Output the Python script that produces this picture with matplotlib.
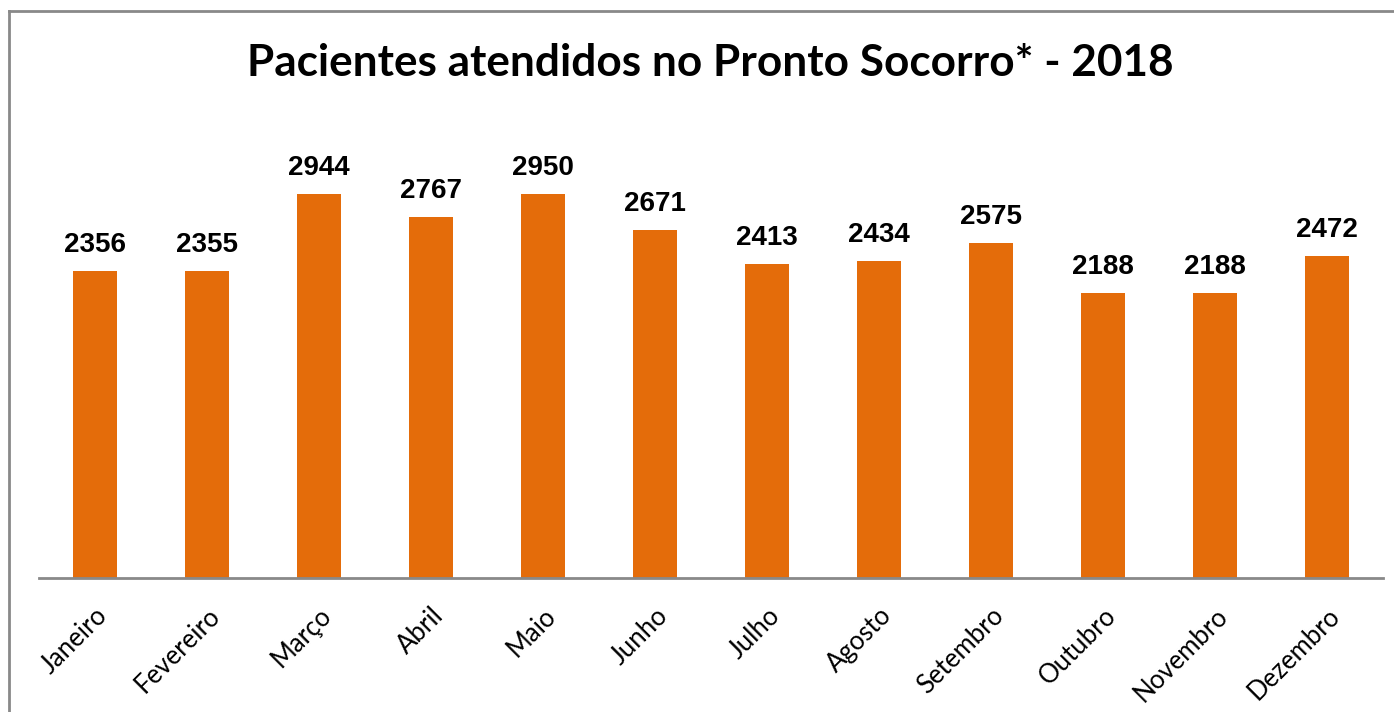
import matplotlib
matplotlib.use("Agg")
import matplotlib.pyplot as plt
from matplotlib.lines import Line2D

months = ["Janeiro", "Fevereiro", "Março", "Abril", "Maio", "Junho",
          "Julho", "Agosto", "Setembro", "Outubro", "Novembro", "Dezembro"]
pacientes = [2356, 2355, 2944, 2767, 2950, 2671, 2413, 2434, 2575, 2188, 2188, 2472]

bar_color = "#E46C0A"
grey = "#898989"

fig = plt.figure(figsize=(13.94, 7.12), dpi=100)
ax = fig.add_axes([39/1394, 1-578/712, 1344/1394, 456/712])

x = range(len(months))
bars = ax.bar(x, pacientes, width=0.39, color=bar_color)

for b, v in zip(bars, pacientes):
    ax.annotate(str(v), (b.get_x() + b.get_width()/2, v), xytext=(0, 13),
                textcoords="offset pixels", ha="center", va="bottom",
                fontsize=20, fontweight="bold", family="Liberation Sans")

ax.set_xlim(-0.5, len(months) - 0.5)
ax.set_ylim(0, 3500)
ax.set_yticks([])
for s in ["top", "right", "left"]:
    ax.spines[s].set_visible(False)
ax.spines["bottom"].set_color(grey)
ax.spines["bottom"].set_linewidth(2)

ax.set_xticks(list(x))
ax.set_xticklabels(months, rotation=45, ha="right", rotation_mode="anchor",
                   fontsize=18.5, family="Lato")
ax.tick_params(axis="x", length=0, pad=18)

fig.text(710/1394, 1-63/712, "Pacientes atendidos no Pronto Socorro* - 2018",
         ha="center", va="center", fontsize=31.8, fontweight="bold", family="Lato")

# outer frame (left and top edges visible)
fig.add_artist(Line2D([9/1394, 9/1394], [0, 1-11/712], transform=fig.transFigure,
                      color=grey, lw=2))
fig.add_artist(Line2D([9/1394, 1], [1-11/712, 1-11/712], transform=fig.transFigure,
                      color=grey, lw=2))

fig.savefig("out.png", dpi=100)
